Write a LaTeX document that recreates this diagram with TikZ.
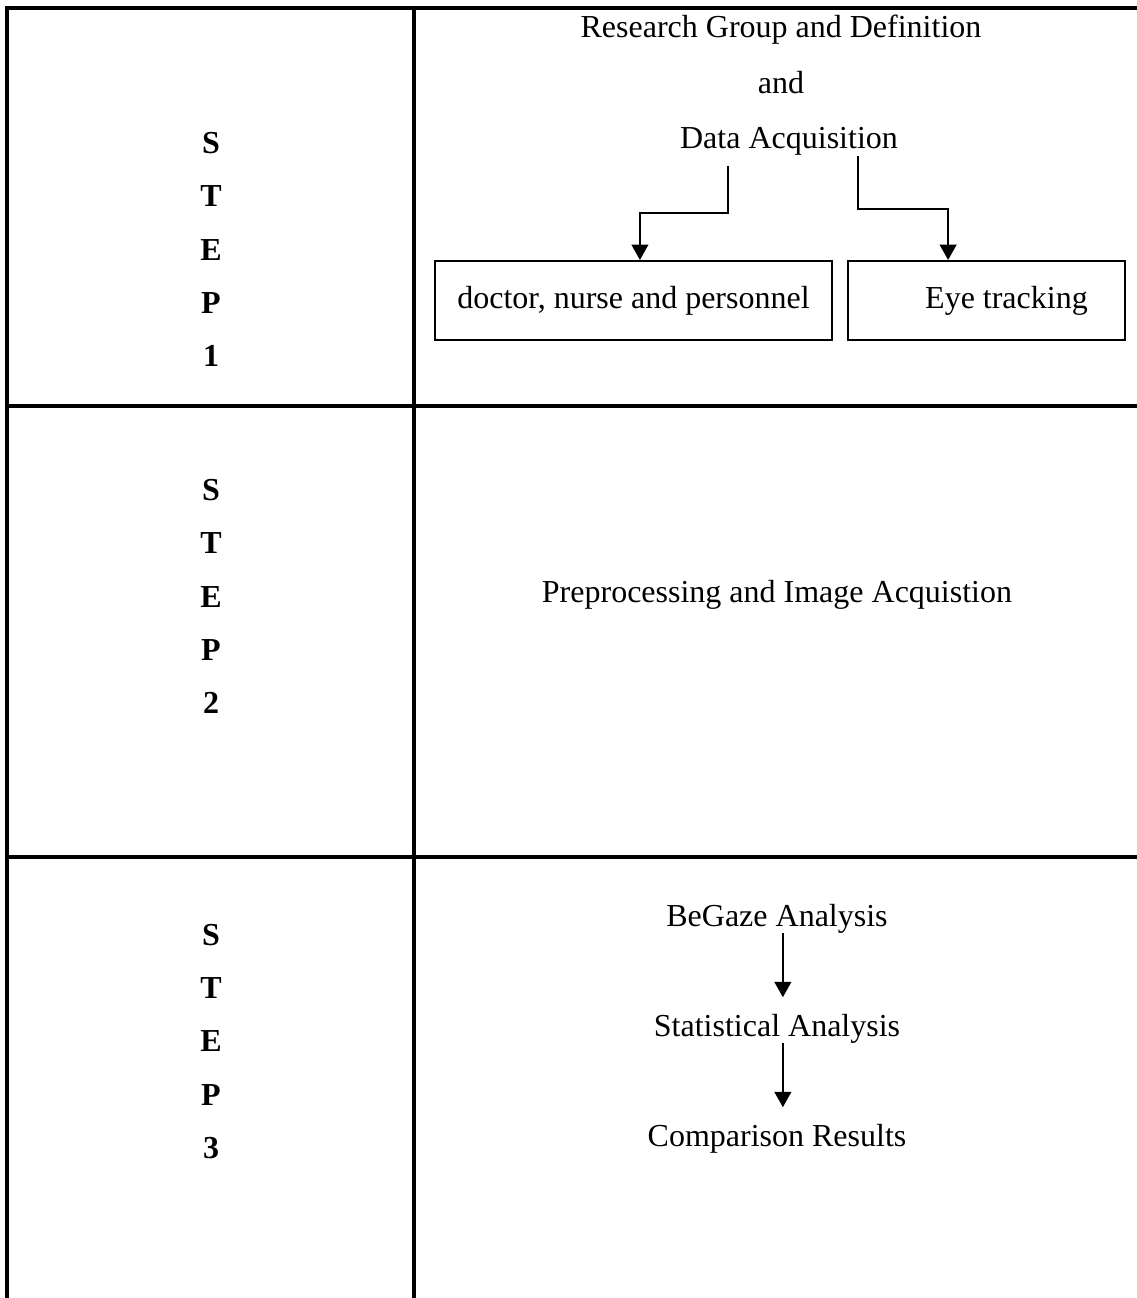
\documentclass[tikz,border=0pt]{standalone}
\usepackage{fontspec}
\setmainfont{Liberation Serif}
\usetikzlibrary{positioning}
\usetikzlibrary{arrows.meta}

\begin{document}
\begin{tikzpicture}[x=0.375pt, y=-0.375pt,
    txt/.style={font=\fontsize{12}{14}\selectfont, inner sep=0pt, anchor=base},
    steplbl/.style={font=\fontsize{12}{20}\selectfont\bfseries, align=center, inner sep=0pt},
    box/.style={draw, line width=0.75pt, minimum height=29.6pt, font=\fontsize{12}{14}\selectfont, inner sep=0pt},
    flow/.style={line width=1pt, -{Triangle[length=5.8pt,width=6.2pt]}},
    rule/.style={line width=1.5pt}]

    \useasboundingbox (0,0) rectangle (1137,1298);

    % Table rules
    \draw[rule] (1137,8) -- (7,8) -- (7,1298);
    \draw[rule] (414,8) -- (414,1298);
    \draw[rule] (7,406) -- (1137,406);
    \draw[rule] (7,857) -- (1137,857);

    % Step labels
    \node[steplbl] (step1) at (211,249.5) {S\\T\\E\\P\\1};
    \node[steplbl] (step2) at (211,596.5) {S\\T\\E\\P\\2};
    \node[steplbl] (step3) at (211,1041.5) {S\\T\\E\\P\\3};

    % Step 1
    \node[txt] (grp) at (781,38) {Research Group and Definition};
    \node[txt] (andtxt) at (781,94) {and};
    \node[txt] (acq) at (789,149) {Data Acquisition};

    \node[box, minimum width=148.9pt] (docbox) at (633.5,300.5) {doctor, nurse and personnel};
    \node[box, minimum width=103.9pt] (eyebox) at (986.5,300.5) {\hspace*{15pt}Eye tracking};

    \coordinate (acqL) at (728,166);
    \coordinate (acqR) at (858,156);
    \draw[flow] (acqL) -- ++(0,47) -| ([xshift=2.4pt]docbox.north);
    \draw[flow] (acqR) -- ++(0,53) -| ([xshift=-14.4pt]eyebox.north);

    % Step 2
    \node[txt] (prep) at (777,602) {Preprocessing and Image Acquistion};

    % Step 3
    \node[txt] (begaze) at (777,926) {BeGaze Analysis};
    \node[txt] (stat) at (777,1036) {Statistical Analysis};
    \node[txt] (comp) at (777,1146) {Comparison Results};

    \draw[flow, shorten >=6pt] ([xshift=2.2pt]begaze.south) -- ([xshift=2.2pt]stat.north);
    \draw[flow, shorten >=6pt] ([xshift=2.2pt]stat.south) -- ([xshift=2.2pt]comp.north);

\end{tikzpicture}
\end{document}
